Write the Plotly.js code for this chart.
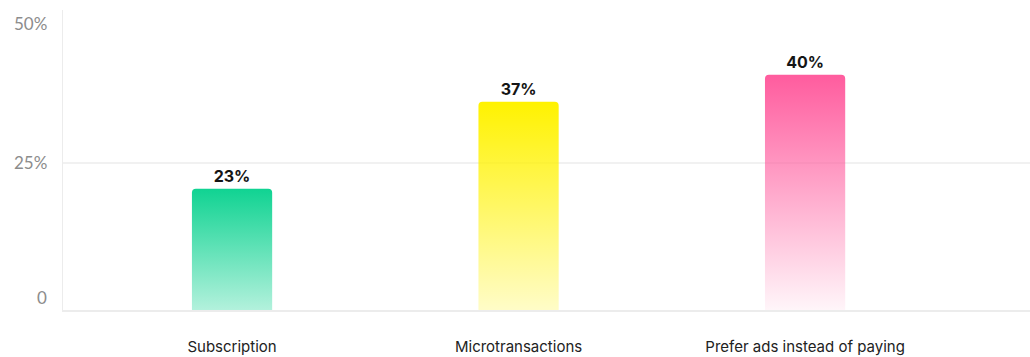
<!DOCTYPE html>
<html>
<head>
<meta charset="utf-8">
<script src="https://cdn.plot.ly/plotly-3.0.1.min.js"></script>
<style>
html,body{margin:0;padding:0;background:#fff;}
#chart{width:1030px;height:357px;}
</style>
</head>
<body>
<div id="chart"></div>
<script>
// ---- data ----
const categories = ["Subscription", "Microtransactions", "Prefer ads instead of paying"];
const barHeights = [20.6, 35.4, 40.0];
const valueLabels = ["23%", "37%", "40%"];
const yTickValues = [0, 25, 50];
const yTickLabels = ["0", "25%", "50%"];
const gridValues = [25];

// ---- style ----
const topColors = ["#10d392", "#fff200", "#ff5c9e"];
const bottomOpacity = [0.32, 0.22, 0.06];
const yLabelShift = [13, 0, -8];

const trace = {
  type: "bar",
  x: categories,
  y: barHeights,
  text: valueLabels,
  textposition: "outside",
  texttemplate: "%{text}",
  textfont: {family: "Inter, 'Open Sans', sans-serif", size: 16, color: "#151515", weight: 700},
  cliponaxis: false,
  width: 0.28,
  marker: {color: topColors, line: {width: 0}},
  hoverinfo: "skip"
};

const annotations = yTickValues.map((v, i) => ({
  xref: "paper", yref: "y", x: 0, y: v,
  text: yTickLabels[i], showarrow: false,
  xanchor: "right", yanchor: "middle", xshift: -14, yshift: yLabelShift[i],
  font: {family: "Lato, 'Open Sans', sans-serif", size: 17, color: "#8c8c8c"}
}));

const shapes = gridValues.map(v => ({
  type: "line", xref: "paper", yref: "y", x0: 0, x1: 1, y0: v, y1: v,
  line: {color: "#ececec", width: 1.5}, layer: "below"
}));

const layout = {
  width: 1030, height: 357,
  margin: {l: 63, r: 0, t: 10, b: 47},
  paper_bgcolor: "#ffffff", plot_bgcolor: "#ffffff",
  showlegend: false,
  barcornerradius: 4,
  xaxis: {
    type: "category",
    range: [-0.59, 2.785],
    showgrid: false, zeroline: false,
    showline: true, linecolor: "#ececec", linewidth: 1.5,
    ticks: "", ticklabelstandoff: 22,
    tickfont: {family: "Inter, 'Open Sans', sans-serif", size: 15, color: "#222222"}
  },
  yaxis: {
    range: [0, 51],
    showgrid: false, zeroline: false,
    showline: true, linecolor: "#ececec", linewidth: 1.5,
    showticklabels: false, ticks: ""
  },
  annotations: annotations,
  shapes: shapes
};

Plotly.newPlot("chart", [trace], layout, {displayModeBar: false, staticPlot: true}).then(gd => {
  const svg = gd.querySelector("svg.main-svg");
  let defs = svg.querySelector("defs");
  const ns = "http://www.w3.org/2000/svg";
  topColors.forEach((c, i) => {
    const g = document.createElementNS(ns, "linearGradient");
    g.setAttribute("id", "barGrad" + i);
    g.setAttribute("x1", "0"); g.setAttribute("y1", "0");
    g.setAttribute("x2", "0"); g.setAttribute("y2", "1");
    const s1 = document.createElementNS(ns, "stop");
    s1.setAttribute("offset", "0"); s1.setAttribute("stop-color", c); s1.setAttribute("stop-opacity", "1");
    const s2 = document.createElementNS(ns, "stop");
    s2.setAttribute("offset", "1"); s2.setAttribute("stop-color", c); s2.setAttribute("stop-opacity", String(bottomOpacity[i]));
    g.appendChild(s1); g.appendChild(s2);
    defs.appendChild(g);
  });
  gd.querySelectorAll(".barlayer .point path").forEach((p, i) => {
    p.style.fill = "url(#barGrad" + i + ")";
    p.style.fillOpacity = 1;
  });
});
</script>
</body>
</html>
